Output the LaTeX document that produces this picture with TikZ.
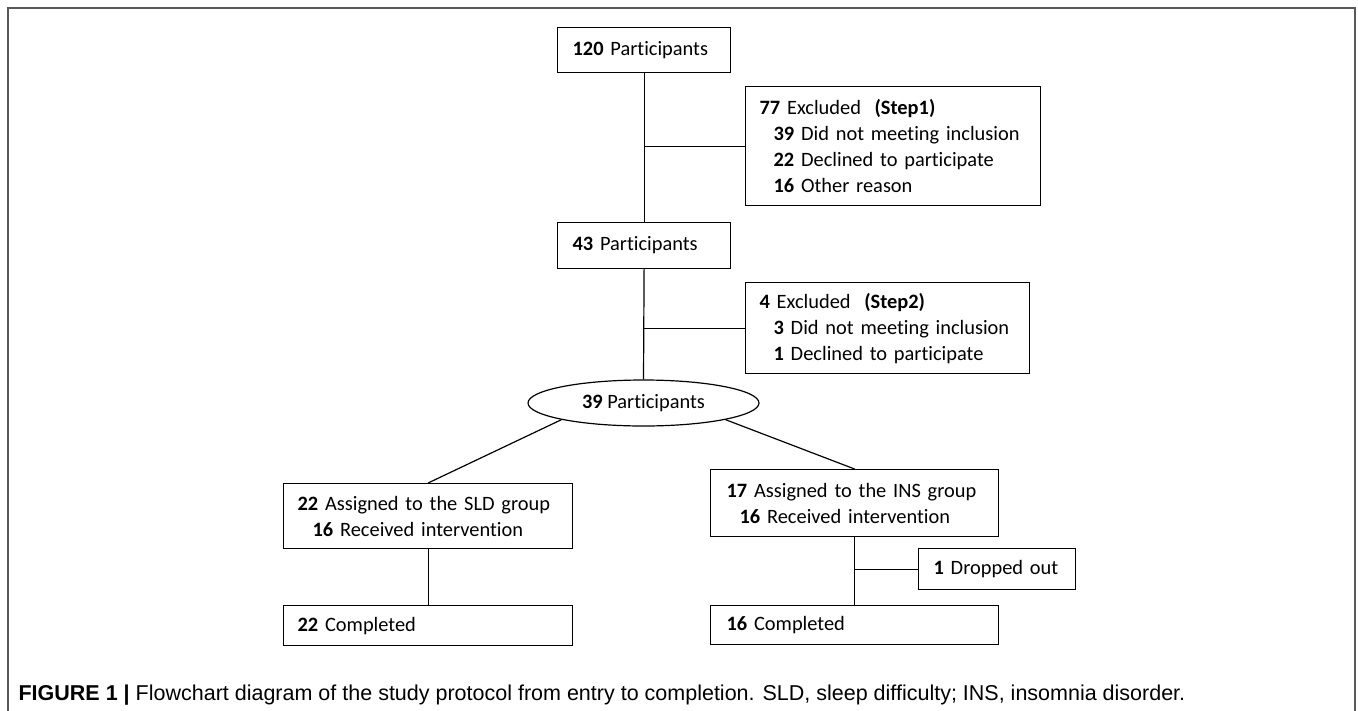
\documentclass[tikz,border=0pt]{standalone}
\usepackage{fontspec}
\setmainfont[Ligatures=NoCommon]{Carlito}
\newfontfamily\capfont{Liberation Sans}
\usetikzlibrary{shapes.geometric}

\begin{document}
\begin{tikzpicture}[x=1pt, y=-1pt, line width=1.2pt,
  box/.style={draw, anchor=north west, align=left, inner ysep=0pt,
    font=\fontsize{20.4}{26}\selectfont},
  oval/.style={draw, ellipse, inner sep=0pt, minimum width=231pt,
    minimum height=46pt, font=\fontsize{20.4}{26}\selectfont}]
  \useasboundingbox (0,0) rectangle (1358,710);
  \draw[line width=2pt, black!65] (8,712) -- (8,8) -- (1355,8) -- (1355,712);

  \node[box, inner xsep=15pt, text width=143pt, minimum height=45pt] (p120) at (557,27) {\textbf{120} Participants};
  \node[box, inner xsep=14pt, text width=267pt, minimum height=119pt] (ex1) at (745,86)
    {\textbf{77} Excluded\ \ \textbf{(Step1)}\\
     \hspace*{14pt}\textbf{39} Did not meeting inclusion\\
     \hspace*{14pt}\textbf{22} Declined to participate\\
     \hspace*{14pt}\textbf{16} Other reason};
  \node[box, inner xsep=15pt, text width=143pt, minimum height=46pt] (p43) at (557,222) {\textbf{43} Participants};
  \node[box, inner xsep=14pt, text width=256pt, minimum height=91pt] (ex2) at (745,282)
    {\textbf{4} Excluded\ \ \textbf{(Step2)}\\
     \hspace*{14pt}\textbf{3} Did not meeting inclusion\\
     \hspace*{14pt}\textbf{1} Declined to participate};
  \node[oval] (p39) at (643.5,403) {\textbf{39} Participants};
  \node[box, inner xsep=14pt, text width=261pt, minimum height=65pt] (sld) at (283,483)
    {\textbf{22} Assigned\ to the SLD group\\
     \hspace*{15pt}\textbf{16} Received intervention};
  \node[box, inner xsep=16pt, text width=256pt, minimum height=67pt] (ins) at (710,469)
    {\textbf{17} Assigned\ to the INS group\\
     \hspace*{13pt}\textbf{16} Received intervention};
  \node[box, inner xsep=14pt, text width=261pt, minimum height=40pt] (sldc) at (283,605) {\textbf{22} Completed};
  \node[box, inner xsep=16pt, text width=256pt, minimum height=39pt] (insc) at (710,605) {\textbf{16} Completed};
  \node[box, inner xsep=15pt, text width=127pt, minimum height=41pt] (drop) at (918,548) {\textbf{1} Dropped out};

  \draw (p120.south) -- (p43.north);
  \draw (p120.south |- ex1.west) -- (ex1.west);
  \draw (p43.south) -- (p39.north);
  \draw (p43.south |- ex2.west) -- (ex2.west);
  \draw (p39.south west) -- (sld.north);
  \draw (p39.south east) -- (ins.north);
  \draw (sld.south) -- (sldc.north);
  \draw (ins.south) -- (insc.north);
  \draw (ins.south |- drop.west) -- (drop.west);

  \node[anchor=base west, inner sep=0pt, font=\capfont\fontsize{21.5}{24}\selectfont] (cap) at (18,700)
    {\textbf{FIGURE 1 |} Flowchart diagram of the study protocol from entry to completion. SLD, sleep difficulty; INS, insomnia disorder.};
\end{tikzpicture}
\end{document}
